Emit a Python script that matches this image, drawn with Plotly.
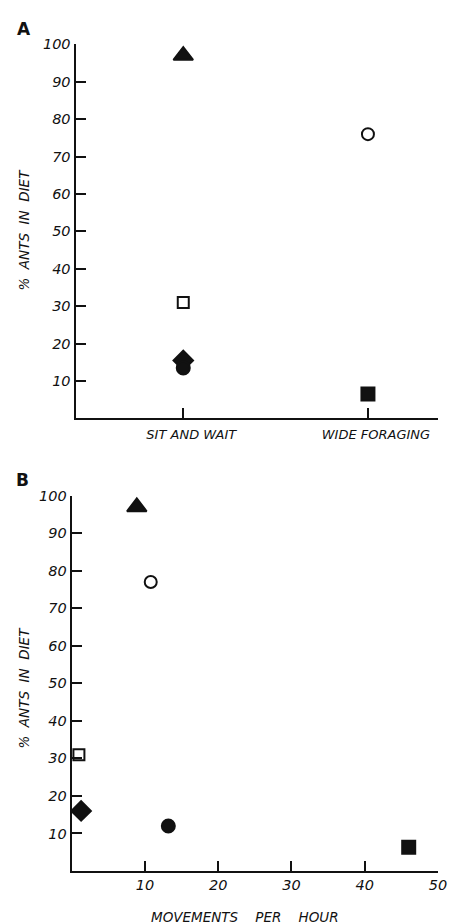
import plotly.graph_objects as go

# Foraging mode (panel A) and movement rate (panel B) vs. proportion of ants in diet
species_symbols = ["triangle-up", "circle-open", "square-open", "diamond", "circle", "square"]
foraging_mode = ["SIT AND WAIT", "WIDE FORAGING", "SIT AND WAIT", "SIT AND WAIT", "SIT AND WAIT", "WIDE FORAGING"]
pct_ants_a = [97, 76, 31, 15.5, 13.5, 6.5]
movements_per_hour = [8.9, 10.8, 1.0, 1.3, 13.2, 46]
pct_ants_b = [97, 77, 31, 16, 12, 6.3]
mode_categories = ["SIT AND WAIT", "WIDE FORAGING"]
y_ticks = [10, 20, 30, 40, 50, 60, 70, 80, 90, 100]
x_ticks_b = [10, 20, 30, 40, 50]

marker_sizes = {"triangle-up": 17, "circle-open": 12, "square-open": 11,
                "diamond": 15, "circle": 13, "square": 13}

W, H = 463, 924
INK = "#111111"
FONT = "DejaVu Sans"
tick_font = dict(family=FONT, size=14.5, color=INK, style="italic")
cat_font = dict(family=FONT, size=13, color=INK, style="italic")
label_font = dict(family=FONT, size=13.5, color=INK, style="italic")

fig = go.Figure()

for sym, mode, y in zip(species_symbols, foraging_mode, pct_ants_a):
    fig.add_trace(go.Scatter(
        x=[mode], y=[y], mode="markers", xaxis="x", yaxis="y",
        marker=dict(symbol=sym, size=marker_sizes[sym], color=INK,
                    line=dict(color=INK, width=2)),
        showlegend=False, hoverinfo="skip"))

for sym, x, y in zip(species_symbols, movements_per_hour, pct_ants_b):
    fig.add_trace(go.Scatter(
        x=[x], y=[y], mode="markers", xaxis="x2", yaxis="y2",
        marker=dict(symbol=sym, size=marker_sizes[sym], color=INK,
                    line=dict(color=INK, width=2)),
        showlegend=False, hoverinfo="skip", cliponaxis=False))

axis_common = dict(showline=True, linecolor=INK, linewidth=2, ticks="inside",
                   ticklen=10, tickwidth=2, tickcolor=INK, showgrid=False,
                   zeroline=False)

fig.update_layout(
    width=W, height=H, margin=dict(l=0, r=0, t=0, b=0),
    paper_bgcolor="white", plot_bgcolor="white",
    xaxis=dict(**axis_common, type="category", categoryorder="array",
               categoryarray=mode_categories, range=[-0.5835, 1.381],
               domain=[77 / W, 447 / W], anchor="y",
               ticklabelstandoff=3, ticklabelshift=8, tickfont=cat_font),
    yaxis=dict(**axis_common, range=[0, 100], tickvals=y_ticks, tickfont=tick_font,
               domain=[1 - 414 / H, 1 - 36.7 / H], anchor="x"),
    xaxis2=dict(**axis_common, range=[0, 50], tickvals=x_ticks_b, tickfont=tick_font,
                domain=[73 / W, 446.7 / W], anchor="y2", ticklabelstandoff=0),
    yaxis2=dict(**axis_common, range=[0, 100], tickvals=y_ticks, tickfont=tick_font,
                domain=[1 - 870.5 / H, 1 - 492 / H], anchor="x2"),
)

panel_letters = [("A", 24, 21), ("B", 23, 476)]
for letter, px, py in panel_letters:
    fig.add_annotation(text=f"<b>{letter}</b>", x=px / W, y=1 - py / H,
                       xref="paper", yref="paper", showarrow=False,
                       xanchor="center", yanchor="middle",
                       font=dict(family=FONT, size=17, color=INK))

for yc in (224, 686):
    fig.add_annotation(text="%  ANTS  IN  DIET", x=25 / W, y=1 - yc / H,
                       xref="paper", yref="paper", showarrow=False,
                       xanchor="center", yanchor="middle",
                       textangle=-90, font=label_font)

fig.add_annotation(text="MOVEMENTS    PER    HOUR", x=250 / W, y=1 - 917 / H,
                   xref="paper", yref="paper", showarrow=False,
                   xanchor="center", yanchor="middle", font=label_font)

fig.write_html("out.html")
